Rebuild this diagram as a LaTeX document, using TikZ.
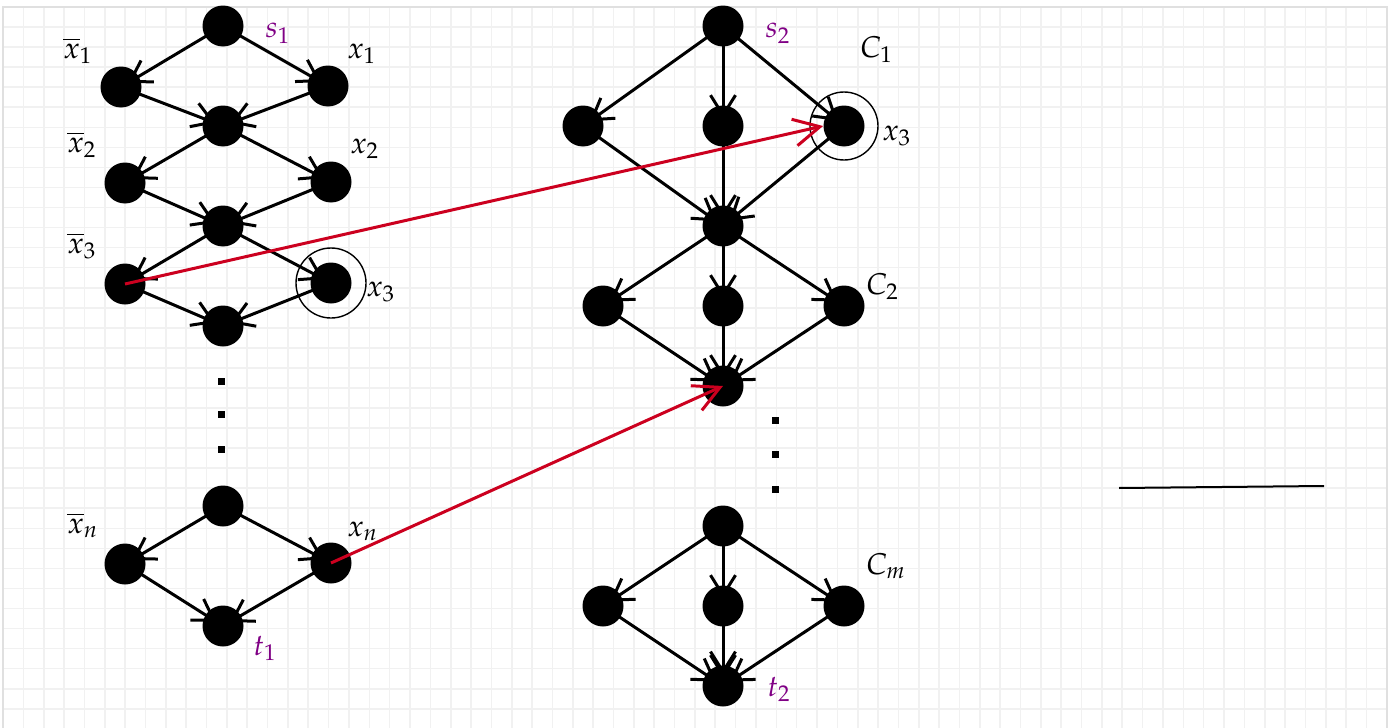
\documentclass[tikz,border=0pt]{standalone}
\usepackage{mathpazo}
\usetikzlibrary{arrows.meta}
\pgfdeclarelayer{grid}
\pgfdeclarelayer{edges}
\pgfsetlayers{grid,edges,main}
\definecolor{gridgray}{gray}{0.945}
\definecolor{gridedge}{gray}{0.88}
\definecolor{labpurple}{rgb}{0.50,0.0,0.52}
\definecolor{redarrow}{rgb}{0.80,0.0,0.12}
\tikzset{
  vtx/.style={circle, fill=black, inner sep=0pt, minimum size=20.5pt},
  ring/.style={circle, draw=black, line width=0.7pt, inner sep=0pt},
  dotmark/.style={rectangle, fill=black, inner sep=0pt, minimum size=3.5pt},
  arc/.style={line width=1.5pt, -{Straight Barb[length=10pt,width=12.5pt]}, shorten >=4pt},
  arcb/.style={line width=1.5pt, -{Straight Barb[length=10pt,width=12.5pt]}, shorten >=5.8pt},
  redarc/.style={draw=redarrow, line width=1.5pt, -{Straight Barb[length=13pt,width=13.5pt]}},
  lab/.style={inner sep=0pt, anchor=base west, font=\fontsize{15}{18}\selectfont},
  plab/.style={lab, text=labpurple},
  gridline/.style={draw=gridgray, line width=0.8pt},
}
\begin{document}
\begin{tikzpicture}[x=0.5pt,y=-0.5pt]
\useasboundingbox (0,0) rectangle (1394,728);

% background grid
\begin{pgfonlayer}{grid}
  \fill[white] (0,0) rectangle (1394,728);
  \foreach \i in {1,...,67} \draw[gridline] ({3+20.35*\i},7) -- ({3+20.35*\i},728);
  \foreach \j in {1,...,35} \draw[gridline] (3,{7+20.05*\j}) -- (1387,{7+20.05*\j});
  \draw[draw=gridedge, line width=0.75pt] (3,728) -- (3,7) -- (1387,7) -- (1387,728);
\end{pgfonlayer}

% variable gadgets
\node[vtx] (s1) at (223,26) {};
\node[vtx] (a1) at (121,87) {};
\node[vtx] (b1) at (328,86) {};
\node[vtx] (m1) at (223,126) {};
\node[vtx] (a2) at (125,183) {};
\node[vtx] (b2) at (331,182) {};
\node[vtx] (m2) at (223,226) {};
\node[vtx] (a3) at (125,284) {};
\node[vtx] (b3) at (331,283) {};
\node[vtx] (m3) at (223,326) {};
\node[ring, minimum size=35pt] (r3) at (b3) {};

\node[dotmark] (d1) at (221,381) {};
\node[dotmark] (d2) at (221,414) {};
\node[dotmark] (d3) at (221,449) {};

\node[vtx] (pn) at (223,506) {};
\node[vtx] (an) at (125,564) {};
\node[vtx] (bn) at (331,563) {};
\node[vtx] (t1) at (223,626) {};

% clause gadgets
\node[vtx] (s2) at (723,26) {};
\node[vtx] (c1a) at (583,126) {};
\node[vtx] (c1b) at (723,126) {};
\node[vtx] (c1c) at (844,126) {};
\node[ring, minimum size=34pt] (rc) at (c1c) {};
\node[vtx] (j1) at (723,226) {};
\node[vtx] (c2a) at (603,306) {};
\node[vtx] (c2b) at (723,306) {};
\node[vtx] (c2c) at (844,306) {};
\node[vtx] (j2) at (723,386) {};

\node[dotmark] (e1) at (775,420) {};
\node[dotmark] (e2) at (775,454) {};
\node[dotmark] (e3) at (775,489) {};

\node[vtx] (pm) at (723,526) {};
\node[vtx] (cma) at (603,606) {};
\node[vtx] (cmb) at (723,606) {};
\node[vtx] (cmc) at (844,606) {};
\node[vtx] (t2) at (723,686) {};

% edges, drawn beneath the vertices
\begin{pgfonlayer}{edges}
  \foreach \u/\v in {s1/a1, s1/b1, a1/m1, b1/m1, m1/a2, m1/b2, a2/m2, b2/m2,
                     m2/a3, m2/b3, a3/m3, b3/m3,
                     pn/an, pn/bn, an/t1, bn/t1,
                     s2/c1a, s2/c1b, s2/c1c, c1a/j1, c1b/j1, c1c/j1,
                     j1/c2a, j1/c2b, j1/c2c, c2a/j2, c2b/j2, c2c/j2,
                     pm/cma, pm/cmb, pm/cmc, cma/t2, cmb/t2, cmc/t2}
    \draw[arc] (\u.center) -- (\v.center);
  \draw[arcb] (cmb.center) -- (t2.center);
\end{pgfonlayer}

% labels
\node[lab] (lx1b) at (63,58) {$\overline{x}_1$};
\node[plab] (ls1) at (265,38) {$s_1$};
\node[lab] (lx1) at (347,58) {$x_1$};
\node[lab] (lx2b) at (67,152) {$\overline{x}_2$};
\node[lab] (lx2) at (350,153) {$x_2$};
\node[lab] (lx3b) at (67,253) {$\overline{x}_3$};
\node[lab] (lx3) at (366,296) {$x_3$};
\node[lab] (lxnb) at (67,533) {$\overline{x}_n$};
\node[lab] (lxn) at (347,536) {$x_n$};
\node[plab] (lt1) at (253,655) {$t_1$};

\node[plab] (ls2) at (765,38) {$s_2$};
\node[lab] (lc1) at (860,57) {$C_1$};
\node[lab] (lx3r) at (882,140) {$x_3$};
\node[lab] (lc2) at (866,294) {$C_2$};
\node[lab] (lcm) at (866,574) {$C_m$};
\node[plab] (lt2) at (767,696) {$t_2$};

% literal-to-clause links
\draw[redarc] (a3.center) -- (c1c.west);
\draw[redarc] (bn.center) -- (j2.center);

% separate stroke on the right
\coordinate (la) at (1119,488);
\coordinate (lb) at (1324,486);
\draw[line width=1pt] (la) -- (lb);
\end{tikzpicture}
\end{document}
